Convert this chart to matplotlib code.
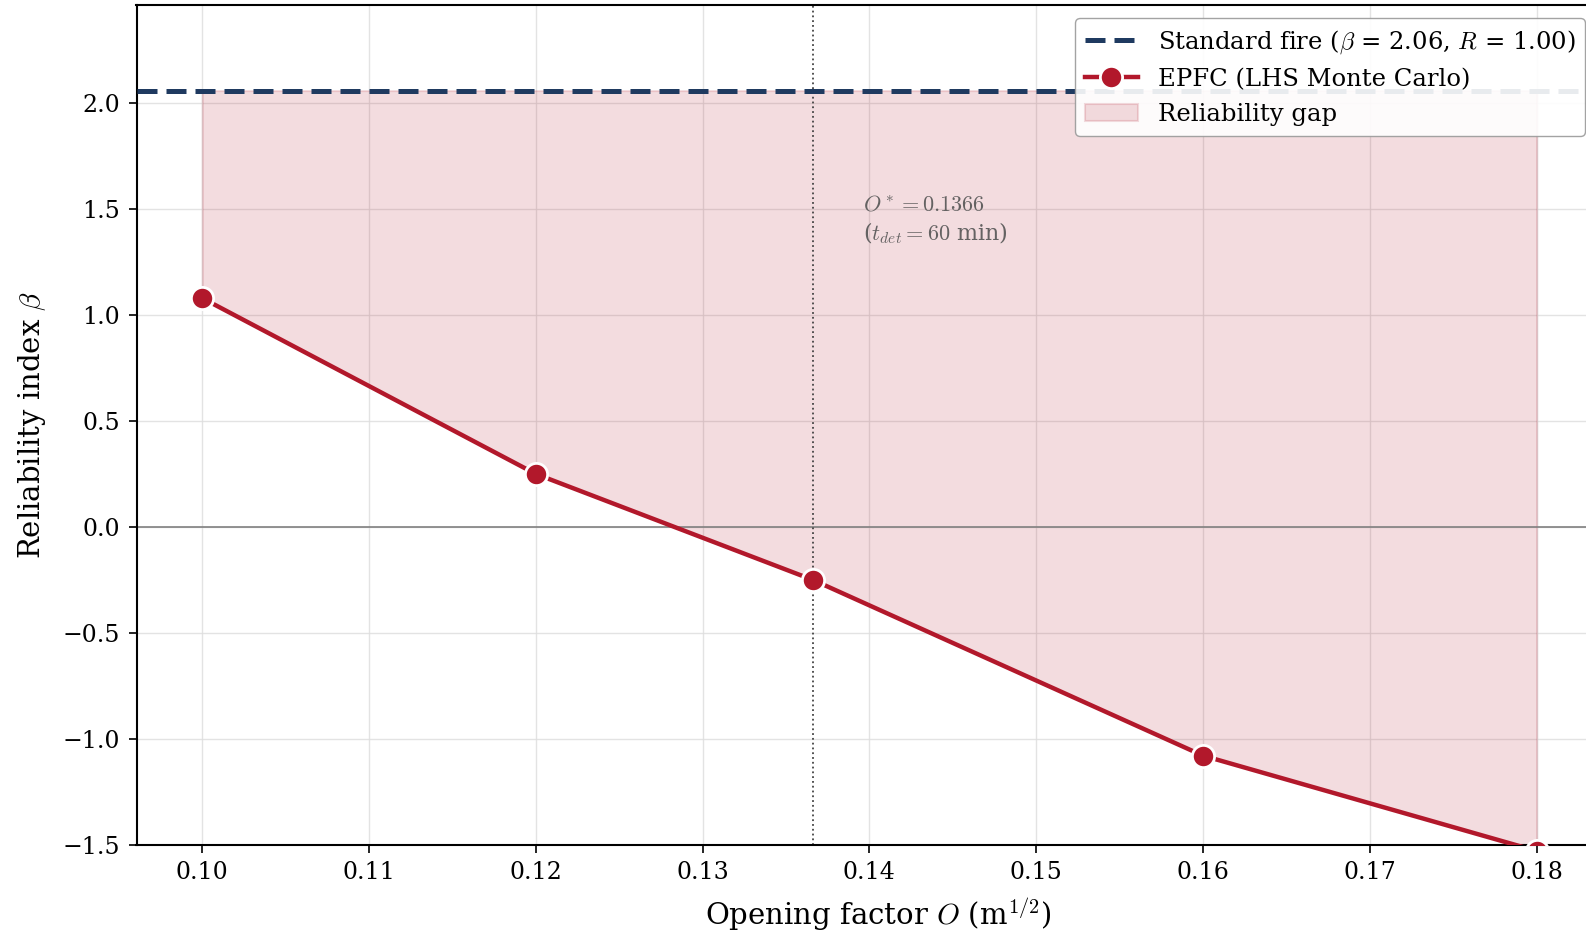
import numpy as np
import matplotlib
matplotlib.use("Agg")
import matplotlib.pyplot as plt

plt.rcParams['font.family'] = 'DejaVu Serif'
plt.rcParams['mathtext.fontset'] = 'cm'
plt.rcParams['axes.unicode_minus'] = True

# data
opening = [0.10, 0.12, 0.1366, 0.16, 0.18]
beta_epfc = [1.08, 0.25, -0.25, -1.08, -1.53]
beta_std = 2.06
r_std = 1.00
o_star = 0.1366
t_det = 60
xticks = [0.10, 0.11, 0.12, 0.13, 0.14, 0.15, 0.16, 0.17, 0.18]
yticks = [-1.5, -1.0, -0.5, 0.0, 0.5, 1.0, 1.5, 2.0]

navy = "#1f3a60"
red = "#b2182b"

fig = plt.figure(figsize=(15.86, 9.33), dpi=100)
# the reference is a crop: axes run off the right edge
ax = fig.add_axes([136.5/1586, (933-844.6)/933, (1620-136.5)/1586, (844.6-5)/933])

ax.axhline(beta_std, color=navy, lw=3.6, ls=(0, (4, 1.8)), zorder=3,
           label=r"Standard fire ($\beta$ = %.2f, $R$ = %.2f)" % (beta_std, r_std))
ax.plot(opening, beta_epfc, color=red, lw=3.2, marker="o", markersize=16,
        markeredgecolor="white", markeredgewidth=2, zorder=4,
        label="EPFC (LHS Monte Carlo)")
ax.fill_between(opening, beta_epfc, beta_std, color=red, alpha=0.15,
                lw=1.5, zorder=1, label="Reliability gap")
ax.axhline(0, color="gray", lw=1.2, zorder=2)
ax.axvline(o_star, color="#444444", lw=1.3, ls=":", zorder=2)
ax.text(o_star + 0.003, 1.57, "$O^* = %.4f$\n($t_{det} = %d$ min)" % (o_star, t_det),
        fontsize=16, color="#555555", alpha=0.9, va="top", ha="left")

ax.set_xlim(0.09606, 0.185)
ax.set_ylim(-1.5, 2.464)
ax.set_xticks(xticks)
ax.set_xticklabels(["%.2f" % v for v in xticks])
ax.set_yticks(yticks)
ax.set_yticklabels([("%.1f" % v).replace("-", "\u2212") for v in yticks])
ax.tick_params(labelsize=17, length=6, width=1.2, pad=6)
ax.grid(True, color="#dddddd", lw=1, alpha=0.8, zorder=0)
ax.set_axisbelow(True)
for s in ax.spines.values():
    s.set_linewidth(1.5)

ax.set_xlabel("Opening factor $O$ (m$^{1/2}$)", fontsize=21, labelpad=8)
ax.set_ylabel(r"Reliability index $\beta$", fontsize=21, labelpad=10)

ax.legend(loc="upper left", bbox_to_anchor=(0.6326, 0.9843), borderaxespad=0,
          fontsize=17.5, framealpha=0.9, edgecolor="#999999", handlelength=2.2)

fig.savefig("out.png", dpi=100)
